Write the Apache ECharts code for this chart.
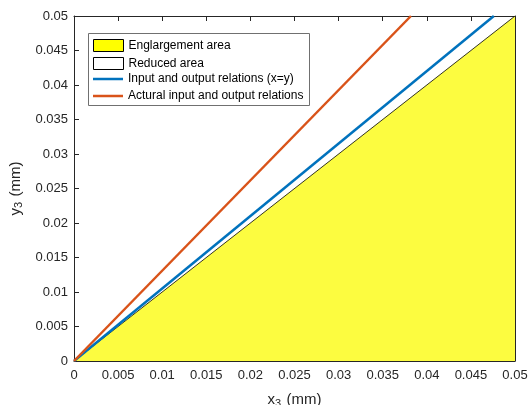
<!DOCTYPE html>
<html>
<head>
<meta charset="utf-8">
<script src="https://cdn.jsdelivr.net/npm/echarts@6/dist/echarts.min.js"></script>
<style>html,body{margin:0;padding:0;background:#fff;}#c{width:528px;height:405px;}</style>
</head>
<body>
<div id="c"></div>
<script>
var seriesNames = ['Englargement area', 'Reduced area', 'Input and output relations (x=y)', 'Actural input and output relations'];
var enlargeArea = [[0, 0], [0.05, 0.05]];
var reducedArea = [];
var idealLine = [[0, 0], [0.0476, 0.05]];
var actualLine = [[0, 0], [0.0382, 0.05]];
var xTicks = [0, 0.005, 0.01, 0.015, 0.02, 0.025, 0.03, 0.035, 0.04, 0.045, 0.05];
var yTicks = [0, 0.005, 0.01, 0.015, 0.02, 0.025, 0.03, 0.035, 0.04, 0.045, 0.05];

var FONT = '"Liberation Sans", Arial, sans-serif';
var TXT = '#262626';
function fmt(v) { return String(parseFloat(v.toFixed(4))); }

var chart = echarts.init(document.getElementById('c'), null, {renderer: 'canvas'});
var grid = {left: 74, right: 13, top: 16, bottom: 44, containLabel: false, outerBoundsMode: 'none'};
var axisLine = {show: true, onZero: false, lineStyle: {color: TXT, width: 1}};
var tick = {show: true, inside: true, length: 5, lineStyle: {color: TXT}};
var nameRich = {
  b: {fontFamily: FONT, fontSize: 15, color: TXT},
  s: {fontFamily: FONT, fontSize: 11, color: TXT, verticalAlign: 'bottom', padding: [7, 1, 0, 0]}
};
var legendText = {fontFamily: FONT, fontSize: 12, color: '#000', lineHeight: 12};
chart.setOption({
  animation: false,
  backgroundColor: '#fff',
  grid: grid,
  graphic: [{
    type: 'rect', left: 88, top: 33, z: 50,
    shape: {width: 221, height: 72},
    style: {fill: '#fff', stroke: '#707070', lineWidth: 1}
  }],
  xAxis: [{
    type: 'value', min: xTicks[0], max: xTicks[xTicks.length - 1], interval: 0.005,
    axisLine: axisLine, axisTick: tick, splitLine: {show: false},
    axisLabel: {color: TXT, fontFamily: FONT, fontSize: 13, margin: 8, formatter: fmt},
    name: '{b|x}{s|3}{b| (mm)}', nameLocation: 'middle', nameGap: 30,
    nameTextStyle: {rich: nameRich}
  }, {
    type: 'value', position: 'top', min: 0, max: 0.05, interval: 0.005,
    axisLine: axisLine, axisTick: tick, axisLabel: {show: false}, splitLine: {show: false}
  }],
  yAxis: [{
    type: 'value', min: yTicks[0], max: yTicks[yTicks.length - 1], interval: 0.005,
    axisLine: axisLine, axisTick: tick, splitLine: {show: false},
    axisLabel: {color: TXT, fontFamily: FONT, fontSize: 13, margin: 6, formatter: fmt},
    name: '{b|y}{s|3}{b| (mm)}', nameLocation: 'middle', nameGap: 48, nameRotate: 90,
    nameTextStyle: {rich: nameRich}
  }, {
    type: 'value', position: 'right', min: 0, max: 0.05, interval: 0.005,
    axisLine: axisLine, axisTick: tick, axisLabel: {show: false}, splitLine: {show: false}
  }],
  legend: [{
    orient: 'vertical', left: 93, top: 39, z: 60,
    padding: 0, itemGap: 5, itemWidth: 30, itemHeight: 12,
    textStyle: legendText, selectedMode: false,
    data: [
      {name: seriesNames[0], icon: 'rect', itemStyle: {color: '#ffff00', borderColor: '#000', borderWidth: 1}},
      {name: seriesNames[1], icon: 'rect', itemStyle: {color: '#fff', borderColor: '#000', borderWidth: 1}}
    ]
  }, {
    orient: 'vertical', left: 93, top: 73, z: 60,
    padding: 0, itemGap: 5, itemWidth: 30, itemHeight: 2.5,
    textStyle: legendText, selectedMode: false,
    data: [
      {name: seriesNames[2], icon: 'rect', itemStyle: {color: '#0072BD'}},
      {name: seriesNames[3], icon: 'rect', itemStyle: {color: '#D95319'}}
    ]
  }],
  series: [{
    name: seriesNames[0], type: 'line', data: enlargeArea, symbol: 'none',
    lineStyle: {color: '#000', width: 0.8}, itemStyle: {color: '#ffff00'},
    areaStyle: {color: '#fcfc40', opacity: 1}, z: 1
  }, {
    name: seriesNames[1], type: 'line', data: reducedArea, symbol: 'none',
    itemStyle: {color: '#fff', borderColor: '#000'}, lineStyle: {color: '#000', width: 1}
  }, {
    name: seriesNames[2], type: 'line', data: idealLine, symbol: 'none',
    lineStyle: {color: '#0072BD', width: 2.5}, itemStyle: {color: '#0072BD'}, z: 3
  }, {
    name: seriesNames[3], type: 'line', data: actualLine, symbol: 'none',
    lineStyle: {color: '#D95319', width: 2.5}, itemStyle: {color: '#D95319'}, z: 3
  }]
});
</script>
</body>
</html>
